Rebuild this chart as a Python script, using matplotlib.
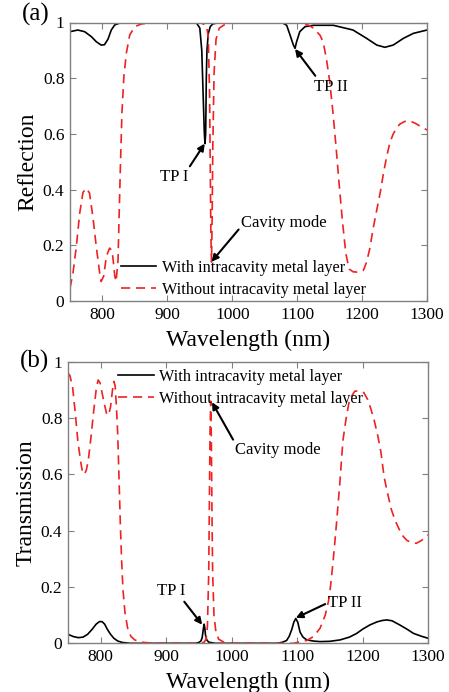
import matplotlib
matplotlib.use("Agg")
import matplotlib.pyplot as plt

plt.rcParams['font.family'] = ['Liberation Serif', 'DejaVu Serif']

# ---------------- data ----------------
# (a) Reflection, without intracavity metal layer (red dashed)
wl_r0 = [750, 754.6, 759.7, 765, 770, 775, 780, 785.4, 790.5, 795.7, 798, 802, 806, 811, 815, 819,
         821, 824, 825.5, 827.5, 830, 833, 836.8, 842, 849.7, 860, 875, 900, 950, 960, 963, 965,
         966, 967, 968, 969, 970, 972, 975, 980, 990, 1000, 1050, 1100, 1110, 1118, 1125, 1130,
         1135, 1140, 1145, 1150, 1155, 1160, 1165, 1170, 1175, 1180, 1186, 1195, 1202, 1207, 1212,
         1217, 1222, 1228, 1233, 1238, 1243, 1248, 1253, 1258, 1266, 1274, 1282, 1290, 1300]
r0 = [0.046, 0.10, 0.195, 0.316, 0.39, 0.405, 0.388, 0.30, 0.195, 0.10, 0.07, 0.09, 0.16, 0.19,
      0.18, 0.09, 0.07, 0.147, 0.29, 0.47, 0.675, 0.805, 0.89, 0.955, 0.985, 0.995, 0.998, 1.0,
      1.0, 0.99, 0.95, 0.75, 0.5, 0.25, 0.14, 0.3, 0.55, 0.82, 0.94, 0.98, 0.995, 1.0, 1.0, 1.0,
      0.995, 0.99, 0.98, 0.967, 0.955, 0.93, 0.87, 0.79, 0.68, 0.55, 0.41, 0.28, 0.17, 0.115,
      0.105, 0.103, 0.11, 0.14, 0.19, 0.26, 0.32, 0.39, 0.46, 0.52, 0.57, 0.60, 0.62, 0.635,
      0.645, 0.646, 0.638, 0.627, 0.614]

# (a) Reflection, with intracavity metal layer (black solid)
wl_r1 = [750, 762, 772.6, 783, 790.5, 798, 803, 808.5, 813.6, 818.8, 826.6, 840, 900, 945, 950,
         953, 955, 957, 958, 959, 960, 961, 963, 966, 970, 980, 1000, 1050, 1078, 1083.8, 1089,
         1094, 1096.7, 1099, 1104, 1112, 1125, 1155.7, 1186, 1207, 1222.6, 1235, 1248, 1263.6,
         1279, 1300]
r1 = [0.967, 0.973, 0.967, 0.949, 0.931, 0.919, 0.92, 0.94, 0.973, 0.991, 0.998, 1.0, 1.0, 0.998,
      0.98, 0.9, 0.75, 0.6, 0.565, 0.6, 0.8, 0.9, 0.96, 0.985, 0.995, 1.0, 1.0, 1.0, 0.998, 0.99,
      0.955, 0.92, 0.907, 0.93, 0.967, 0.985, 0.99, 0.99, 0.973, 0.943, 0.919, 0.911, 0.919,
      0.943, 0.961, 0.973]

# (b) Transmission, without intracavity metal layer (red dashed)
wl_t0 = [750, 753, 757, 761, 765, 769, 772, 775, 778, 781, 785, 789, 793, 796, 799, 802, 806, 809,
         812, 815, 818, 820, 822, 824, 826, 828, 830, 832, 834, 837, 841, 846, 852, 862, 880, 950,
         958, 961, 963, 965, 966, 967, 968, 969, 970, 971, 973, 976, 980, 988, 1000, 1095, 1105,
         1115, 1125, 1135, 1143, 1148, 1150, 1155, 1160, 1165, 1170, 1175, 1180, 1188, 1195, 1202,
         1208, 1213, 1218, 1223, 1228, 1233, 1238, 1244, 1250, 1256, 1262, 1268, 1275, 1282,
         1290, 1300]
t0 = [0.96, 0.95, 0.91, 0.82, 0.72, 0.65, 0.61, 0.60, 0.615, 0.65, 0.73, 0.82, 0.90, 0.935, 0.925,
      0.89, 0.845, 0.815, 0.81, 0.84, 0.90, 0.93, 0.915, 0.84, 0.74, 0.58, 0.42, 0.29, 0.19, 0.11,
      0.055, 0.025, 0.012, 0.004, 0.0, 0.0, 0.004, 0.015, 0.06, 0.25, 0.5, 0.75, 0.86, 0.72, 0.45,
      0.25, 0.10, 0.04, 0.015, 0.004, 0.0, 0.0, 0.006, 0.01, 0.024, 0.053, 0.10, 0.15, 0.18, 0.29,
      0.42, 0.56, 0.72, 0.80, 0.865, 0.895, 0.897, 0.89, 0.865, 0.83, 0.79, 0.74, 0.68, 0.59,
      0.535, 0.475, 0.435, 0.405, 0.38, 0.365, 0.358, 0.355, 0.365, 0.385]

# (b) Transmission, with intracavity metal layer (black solid)
wl_t1 = [750, 758, 766, 773, 780, 787, 793, 798, 802, 806, 810, 815, 820, 826, 833, 845, 945, 950,
         953, 955, 957, 958, 959, 960, 962, 965, 975, 1070, 1078, 1084, 1088, 1092, 1095, 1098,
         1101, 1104.5, 1109, 1114.7, 1125, 1135, 1150, 1165.6, 1180, 1191, 1200, 1211, 1222, 1230,
         1237, 1245, 1257, 1268, 1278, 1290, 1300]
t1 = [0.032, 0.024, 0.02, 0.022, 0.032, 0.05, 0.068, 0.077, 0.077, 0.068, 0.05, 0.032, 0.018,
      0.008, 0.003, 0.0, 0.0, 0.003, 0.008, 0.02, 0.055, 0.068, 0.055, 0.03, 0.012, 0.004, 0.0,
      0.0, 0.004, 0.01, 0.025, 0.05, 0.075, 0.088, 0.075, 0.04, 0.022, 0.012, 0.008, 0.006,
      0.007, 0.012, 0.022, 0.035, 0.05, 0.065, 0.076, 0.081, 0.083, 0.08, 0.065, 0.05, 0.035,
      0.025, 0.018]

legend_labels = ['With intracavity metal layer', 'Without intracavity metal layer']
x_ticks = [800, 900, 1000, 1100, 1200, 1300]
y_ticks = [0, 0.2, 0.4, 0.6, 0.8, 1]
y_tick_labels = ['0', '0.2', '0.4', '0.6', '0.8', '1']

# ---------------- figure ----------------
W, H = 449, 692
fig = plt.figure(figsize=(W / 100, H / 100), dpi=100)
ax1 = fig.add_axes([70 / W, (H - 301) / H, 357 / W, 278.5 / H])
ax2 = fig.add_axes([68 / W, (H - 643.3) / H, 360 / W, 281.6 / H])

RED = '#ee2222'
dash = (0, (5.5, 3.5))

def style(ax, ylabel):
    ax.set_xlim(750, 1300)
    ax.set_ylim(0, 1)
    ax.set_xticks(x_ticks)
    ax.set_yticks(y_ticks)
    ax.set_yticklabels(y_tick_labels)
    ax.tick_params(direction='in', top=True, right=True, labelsize=12.5, length=4,
                   color='#808080', pad=4)
    for s in ax.spines.values():
        s.set_color('#808080')
        s.set_linewidth(1.0)
    ax.set_xlabel('Wavelength (nm)', fontsize=17, labelpad=5)
    ax.set_ylabel(ylabel, fontsize=17, labelpad=3)

leg_kw = dict(frameon=False, fontsize=11.7, handlelength=2.2, handletextpad=0.35,
              labelspacing=0.35, borderpad=0.2, borderaxespad=0.0)

# (a)
ax1.plot(wl_r1, r1, color='k', lw=1.2, label=legend_labels[0])
ax1.plot(wl_r0, r0, color=RED, lw=1.2, linestyle=dash, label=legend_labels[1])
style(ax1, 'Reflection')
ax1.legend(loc='lower left', bbox_to_anchor=(0.133, 0.0), **leg_kw)

arrow = dict(arrowstyle='-|>', color='k', lw=1.5, mutation_scale=10, shrinkA=0, shrinkB=0)
ax1.annotate('TP I', xy=(957.5, 0.565), xytext=(910, 0.445), fontsize=12, ha='center',
             va='center', arrowprops=dict(arrow, relpos=(1.0, 1.0)))
ax1.annotate('TP II', xy=(1096.7, 0.905), xytext=(1152, 0.77), fontsize=12, ha='center',
             va='center', arrowprops=dict(arrow, relpos=(0.1, 1.0)))
ax1.annotate('Cavity mode', xy=(968, 0.141), xytext=(1080, 0.28), fontsize=12, ha='center',
             va='center', arrowprops=dict(arrow, relpos=(0.0, 0.3)))
fig.text(22 / W, 1 - 14 / H, '(a)', fontsize=18, va='center', ha='left')

# (b)
ax2.plot(wl_t1, t1, color='k', lw=1.2, label=legend_labels[0])
ax2.plot(wl_t0, t0, color=RED, lw=1.2, linestyle=dash, label=legend_labels[1])
style(ax2, 'Transmission')
ax2.legend(loc='upper left', bbox_to_anchor=(0.13, 0.986), **leg_kw)

ax2.annotate('TP I', xy=(955, 0.066), xytext=(907, 0.186), fontsize=12, ha='center',
             va='center', arrowprops=dict(arrow, relpos=(0.9, 0.0)))
ax2.annotate('TP II', xy=(1098, 0.09), xytext=(1173, 0.144), fontsize=12, ha='center',
             va='center', arrowprops=dict(arrow, relpos=(0.0, 0.5)))
ax2.annotate('Cavity mode', xy=(970, 0.856), xytext=(1070, 0.685), fontsize=12, ha='center',
             va='center', arrowprops=dict(arrow, relpos=(0.0, 1.0)))
fig.text(20 / W, 1 - 361 / H, '(b)', fontsize=18, va='center', ha='left')

fig.savefig('out.png', dpi=100)
